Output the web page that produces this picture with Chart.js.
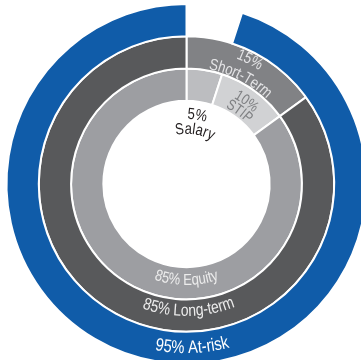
<!DOCTYPE html>
<html>
<head>
<meta charset="utf-8">
<script src="https://cdn.jsdelivr.net/npm/chart.js@4/dist/chart.umd.min.js"></script>
<style>
  html, body { margin: 0; padding: 0; background: #ffffff; overflow: hidden; }
  #wrap { width: 361px; height: 360px; overflow: hidden; position: relative; }
  #wrap canvas { position: absolute; left: 0; top: 0; }
</style>
</head>
<body>
<div id="wrap"><canvas id="pay" width="373" height="368"></canvas></div>
<script>
// Outer ring: fixed vs. at-risk pay
const payCategories = ['Fixed', 'At-risk'];
const payValues = [5, 95];
// Middle ring: short-term vs. long-term pay
const termCategories = ['Short-Term', 'Long-term'];
const termValues = [15, 85];
// Inner ring: pay vehicles
const vehicleCategories = ['Salary', 'STIP', 'Equity'];
const vehicleValues = [5, 10, 85];

const payColors = ['rgba(0,0,0,0)', '#105ca9'];
const termColors = ['#818285', '#58595b'];
const vehicleColors = ['#bcbdc0', '#d1d2d4', '#9d9ea2'];

const FONT = '"Liberation Sans", Arial, sans-serif';
const NARROW = 0.82; // horizontal squeeze for a condensed look
const pct = v => v + '%';

// Curved labels: baseline radius is given as a fraction of the ring thickness,
// measured from the ring's inner edge.
const labelSpecs = [
  { ds: 0, idx: 1, side: 'bottom', angle: 178, color: '#ffffff',
    lines: [{ text: pct(payValues[1]) + ' ' + payCategories[1], r: 0.66, size: 18 }] },
  { ds: 1, idx: 1, side: 'bottom', angle: 179, color: '#ececec',
    lines: [{ text: pct(termValues[1]) + ' ' + termCategories[1], r: 0.51, size: 17 }] },
  { ds: 2, idx: 2, side: 'bottom', angle: 180, color: '#ececec',
    lines: [{ text: pct(vehicleValues[2]) + ' ' + vehicleCategories[2], r: 0.55, size: 16 }] },
  { ds: 1, idx: 0, side: 'top', color: '#e4e4e6',
    lines: [{ text: pct(termValues[0]), r: 0.61, size: 16 },
            { text: termCategories[0], r: 0.05, size: 16 }] },
  { ds: 2, idx: 1, side: 'top', color: '#7f8083',
    lines: [{ text: pct(vehicleValues[1]), r: 0.46, size: 15 },
            { text: vehicleCategories[1], r: 0.09, size: 15 }] },
  { ds: 2, idx: 0, side: 'top', color: '#231f20',
    lines: [{ text: pct(vehicleValues[0]), r: -0.56, size: 16 },
            { text: vehicleCategories[0], r: -1.02, size: 16 }] }
];

function drawArcText(ctx, cx, cy, text, radius, phiC, side) {
  const chars = [...text];
  const widths = chars.map(ch => ctx.measureText(ch).width * NARROW);
  const total = widths.reduce((a, b) => a + b, 0);
  const dir = side === 'top' ? 1 : -1;
  const start = phiC - dir * total / 2 / radius;
  let acc = 0;
  chars.forEach((ch, i) => {
    const phi = start + dir * (acc + widths[i] / 2) / radius;
    acc += widths[i];
    ctx.save();
    ctx.translate(cx + radius * Math.sin(phi), cy - radius * Math.cos(phi));
    ctx.rotate(side === 'top' ? phi : phi - Math.PI);
    ctx.scale(NARROW, 1);
    ctx.fillText(ch, 0, 0);
    ctx.restore();
  });
}

const arcLabels = {
  id: 'arcLabels',
  afterDatasetsDraw(chart) {
    const ctx = chart.ctx;
    ctx.save();
    ctx.textAlign = 'center';
    ctx.textBaseline = 'alphabetic';
    labelSpecs.forEach(spec => {
      const arc = chart.getDatasetMeta(spec.ds).data[spec.idx];
      const p = arc.getProps(['x', 'y', 'startAngle', 'endAngle', 'innerRadius', 'outerRadius'], true);
      const thickness = p.outerRadius - p.innerRadius;
      const phiC = spec.angle !== undefined
        ? spec.angle * Math.PI / 180
        : (p.startAngle + p.endAngle) / 2 + Math.PI / 2;
      ctx.fillStyle = spec.color;
      spec.lines.forEach(line => {
        ctx.font = line.size + 'px ' + FONT;
        drawArcText(ctx, p.x, p.y, line.text, p.innerRadius + line.r * thickness, phiC, spec.side);
      });
    });
    ctx.restore();
  }
};

new Chart(document.getElementById('pay'), {
  type: 'doughnut',
  data: {
    datasets: [
      { label: 'Pay mix', data: payValues, backgroundColor: payColors,
        borderColor: '#ffffff', borderWidth: [0, 2] },
      { label: 'Term', data: termValues, backgroundColor: termColors,
        borderColor: '#ffffff', borderWidth: 2 },
      { label: 'Vehicle', data: vehicleValues, backgroundColor: vehicleColors,
        borderColor: '#ffffff', borderWidth: 2 }
    ]
  },
  options: {
    responsive: false,
    animation: false,
    radius: 180,
    cutout: '46.2%',
    elements: { arc: { borderJoinStyle: 'miter' } },
    layout: { padding: 0 },
    plugins: { legend: { display: false }, tooltip: { enabled: false } }
  },
  plugins: [arcLabels]
});
</script>
</body>
</html>
